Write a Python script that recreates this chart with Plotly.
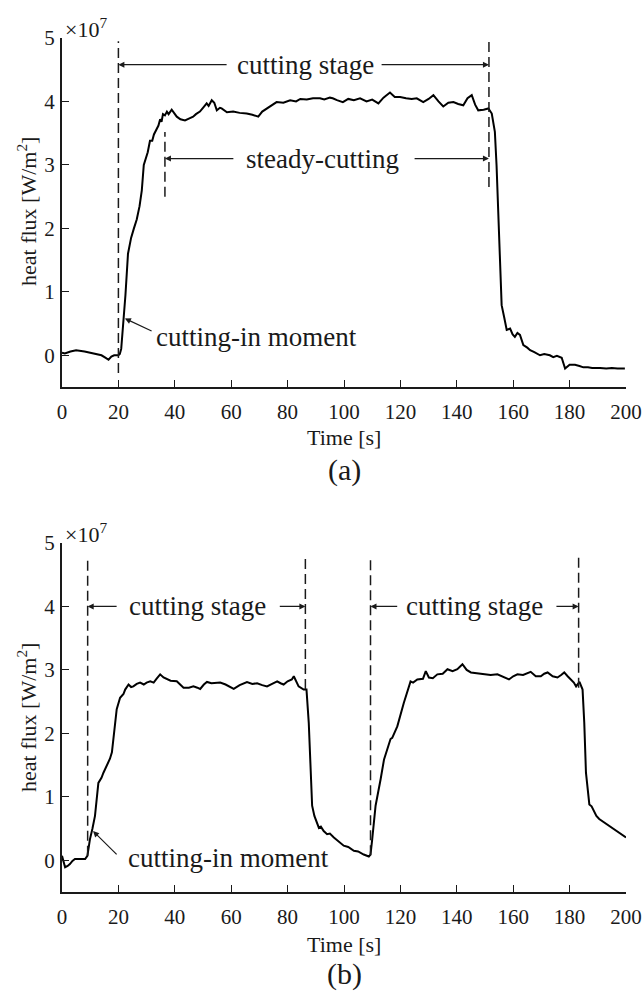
import plotly.graph_objects as go

# ---------------- data (heat flux in units of 1e7 W/m^2) ----------------
t_a = [0, 1, 3, 5, 8, 11, 14, 15.5, 16.5, 17.5, 18.5, 20, 20.5, 21.0, 21.8, 22.5, 23.4, 24.5, 25.5,
       26.5, 27.5, 28.3, 29.0, 29.6, 30.4, 31.2, 32.0, 32.6, 33.6, 34.2, 34.8, 35.3, 35.8, 36.5,
       37.2, 37.8, 38.9, 40, 40.7, 42, 43.6, 45, 46.5, 47.5, 48.9, 50, 51.3, 52, 53.1, 54, 54.9,
       56, 56.6, 58.5, 60.7, 63, 65.5, 67.5, 69.6, 71, 72.6, 74.5, 76.1, 78.5, 80.9, 83, 84.5,
       86.8, 89, 91.5, 93, 95, 96, 97.5, 99.6, 101.5, 103.5, 105.7, 108, 110, 112.2, 114, 116.3,
       118, 119.9, 122, 124, 125.8, 128.1, 130, 131.7, 133.5, 135.2, 137, 138.8, 140.5, 142.3,
       143.8, 145.3, 146.5, 147.6, 149.5, 151.2, 152.4, 153.5, 154.1, 154.7, 155.3, 155.9, 156.8,
       157.7, 158.9, 159.8, 160.6, 161.5, 162.4, 163.6, 165, 166, 167.5, 169.5, 171, 173, 174.2,
       175.5, 177.2, 178.4, 180, 181.9, 183.5, 184.9, 186.5, 188, 190.8, 193, 195, 197, 199.6]
q_a = [0.04, 0.03, 0.06, 0.08, 0.06, 0.03, 0.0, -0.04, -0.07, -0.02, 0.0, 0.0, 0.02, 0.1, 0.5, 0.95,
       1.6, 1.85, 2.0, 2.14, 2.35, 2.6, 3.0, 3.1, 3.2, 3.38, 3.38, 3.48, 3.57, 3.62, 3.72, 3.68, 3.8,
       3.78, 3.84, 3.8, 3.87, 3.8, 3.76, 3.72, 3.7, 3.73, 3.76, 3.8, 3.84, 3.9, 3.97, 3.93, 4.02,
       3.98, 3.86, 3.9, 3.89, 3.83, 3.84, 3.82, 3.81, 3.79, 3.76, 3.84, 3.89, 3.95, 3.99, 3.98, 4.02,
       4.0, 4.04, 4.03, 4.05, 4.05, 4.03, 4.06, 4.05, 4.02, 3.99, 4.04, 4.02, 4.05, 4.0, 4.03, 3.97,
       4.06, 4.14, 4.07, 4.07, 4.05, 4.04, 4.05, 3.99, 4.04, 4.1, 4.0, 3.92, 3.98, 3.99, 3.96, 3.94,
       4.05, 4.1, 3.95, 3.86, 3.87, 3.89, 3.81, 3.52, 2.99, 2.2, 1.67, 0.79, 0.6, 0.4, 0.42, 0.33,
       0.29, 0.35, 0.32, 0.16, 0.12, 0.08, 0.05, 0.0, 0.02, 0.0, -0.03, -0.01, -0.04, -0.21, -0.15,
       -0.15, -0.17, -0.19, -0.19, -0.2, -0.2, -0.21, -0.2, -0.21, -0.21]

t_b = [0, 0.5, 1.1, 2, 2.8, 3.7, 4.6, 6, 8.2, 9.0, 9.9, 10.8, 11.7, 12.9, 14, 14.7, 15.9, 17, 17.7,
       18.2, 18.8, 19.4, 20.6, 21.2, 21.8, 22.4, 23.6, 24.5, 25.3, 26.5, 27.7, 29, 30, 31.3, 32.5,
       33.5, 34.8, 36, 37.2, 38.5, 40.7, 42, 43.1, 45, 46.6, 48, 49, 50.3, 51.4, 53, 56.1, 58, 60.9,
       63, 65.6, 67.5, 69.2, 71, 72.7, 74.5, 76.3, 77.5, 78.6, 80, 81.5, 82.2, 83.9, 85.7, 86.7,
       87.5, 88, 88.7, 89.5, 91.1, 91.8, 92.8, 94, 95, 96.4, 98, 99.9, 101.5, 103.5, 105, 107,
       108.8, 109.4, 110, 111.2, 113, 114.2, 116.5, 117.1, 118.9, 121.2, 123.6, 124.5, 126, 128,
       129, 130.1, 131.5, 133.1, 135, 136.7, 138.5, 140.2, 142, 143.5, 145, 147, 149.7, 152, 154.4,
       156.5, 158.5, 160, 161.5, 163.5, 166.2, 168, 169.8, 171, 172.2, 174, 175.7, 177, 178.1,
       179.3, 180.5, 181.5, 182.3, 183.5, 184.6, 185.2, 185.8, 187, 187.8, 188.7, 189.5, 190.5,
       191.5, 192.9, 194, 195.3, 196.5, 197.6, 199, 200]
q_b = [0.07, 0.0, -0.11, -0.09, -0.06, -0.01, 0.02, 0.02, 0.02, 0.07, 0.33, 0.5, 0.7, 1.22, 1.3,
       1.38, 1.49, 1.6, 1.7, 1.91, 2.18, 2.38, 2.56, 2.59, 2.62, 2.69, 2.77, 2.73, 2.74, 2.78, 2.8,
       2.77, 2.8, 2.82, 2.8, 2.86, 2.93, 2.88, 2.85, 2.83, 2.82, 2.76, 2.72, 2.72, 2.74, 2.72, 2.7,
       2.77, 2.81, 2.79, 2.8, 2.77, 2.7, 2.76, 2.81, 2.78, 2.79, 2.76, 2.74, 2.78, 2.82, 2.79, 2.77,
       2.82, 2.85, 2.9, 2.74, 2.69, 2.69, 2.17, 1.5, 0.86, 0.7, 0.51, 0.53, 0.46, 0.41, 0.42, 0.36,
       0.3, 0.23, 0.21, 0.15, 0.14, 0.09, 0.06, 0.09, 0.33, 0.86, 1.28, 1.59, 1.91, 1.93, 2.11, 2.48,
       2.82, 2.8, 2.85, 2.86, 2.98, 2.88, 2.87, 2.93, 2.94, 3.01, 2.98, 3.01, 3.09, 3.0, 2.96, 2.95,
       2.93, 2.92, 2.93, 2.89, 2.85, 2.9, 2.93, 2.92, 2.97, 2.9, 2.9, 2.94, 2.96, 2.9, 2.88, 2.92,
       2.96, 2.9, 2.85, 2.8, 2.74, 2.81, 2.69, 2.17, 1.38, 0.88, 0.85, 0.78, 0.7, 0.65, 0.62, 0.57,
       0.55, 0.51, 0.47, 0.44, 0.4, 0.36]

x_ticks = [0, 20, 40, 60, 80, 100, 120, 140, 160, 180, 200]
y_ticks = [0, 1, 2, 3, 4, 5]

# marker lines: (x, y_start, y_end)
dash_a = [(20, -0.28, 4.95), (151.4, 2.65, 4.95), (36.5, 2.5, 3.52)]
dash_b = [(9.1, 0.07, 4.77), (86.3, 2.7, 4.77), (109.4, 0.08, 4.77), (183.2, 2.72, 4.77)]

# labelled spans: (text, text_x, y, left_x, left_tail, right_tail, right_x)
spans_a = [("cutting stage", 86.5, 4.58, 20, 58.9, 112.8, 151.4),
           ("steady-cutting", 92.5, 3.1, 36.5, 61.3, 124.5, 151.4)]
spans_b = [("cutting stage", 48.1, 4.0, 9.1, 19.9, 76.7, 86.3),
           ("cutting stage", 146.4, 4.0, 109.4, 119.4, 174.8, 183.2)]

# cutting-in arrows: (text_x, text_y, tail_x, tail_y, head_x, head_y)
cutin_a = (69.1, 0.29, 32.3, 0.37, 22.3, 0.58)
cutin_b = (59.0, 0.03, 19.9, 0.07, 11.0, 0.46)

# ---------------- figure ----------------
FONT = "'Liberation Serif', 'Times New Roman', Times, serif"
INK = "#1a1a1a"
W, H = 644, 994
X0, X1 = 62, 626  # plot area left/right in px


def px_x(p):
    return p / W


def px_y(p):
    return 1 - p / H


fig = go.Figure()
fig.add_trace(go.Scatter(x=t_a, y=q_a, mode="lines", line=dict(color="black", width=2),
                         xaxis="x", yaxis="y", showlegend=False))
fig.add_trace(go.Scatter(x=t_b, y=q_b, mode="lines", line=dict(color="black", width=2),
                         xaxis="x2", yaxis="y2", showlegend=False))

top_dom = [px_y(387), px_y(38)]
bot_dom = [px_y(892), px_y(543)]
x_dom = [px_x(X0), px_x(X1)]

ax_common = dict(range=[0, 200], tickvals=x_ticks, ticks="inside", ticklen=7, tickwidth=1,
                 tickcolor=INK, showline=True, linecolor=INK, linewidth=2, showgrid=False,
                 zeroline=False, tickfont=dict(family=FONT, size=21, color=INK),
                 ticklabelstandoff=5, automargin=False, fixedrange=True)
ay_common = dict(range=[-0.5, 5], tickvals=y_ticks, ticks="inside", ticklen=7, tickwidth=1,
                 tickcolor=INK, showline=True, linecolor=INK, linewidth=2, showgrid=False,
                 zeroline=False, tickfont=dict(family=FONT, size=21, color=INK),
                 ticklabelstandoff=1, automargin=False, fixedrange=True)

fig.update_layout(
    width=W, height=H,
    margin=dict(l=0, r=0, t=0, b=0),
    paper_bgcolor="white", plot_bgcolor="white",
    xaxis=dict(domain=x_dom, anchor="y", **ax_common),
    yaxis=dict(domain=top_dom, anchor="x", **ay_common),
    xaxis2=dict(domain=x_dom, anchor="y2", **ax_common),
    yaxis2=dict(domain=bot_dom, anchor="x2", **ay_common),
    font=dict(family=FONT, color=INK),
)

shapes = []
for xr, yr, lst in (("x", "y", dash_a), ("x2", "y2", dash_b)):
    for x, y0, y1 in lst:
        shapes.append(dict(type="line", xref=xr, yref=yr, x0=x, x1=x, y0=y0, y1=y1,
                           line=dict(color=INK, width=1.5, dash="10px,5px")))
fig.update_layout(shapes=shapes)

ann = []


def arrow(xr, yr, tx, ty, hx, hy):
    ann.append(dict(xref=xr, yref=yr, axref=xr, ayref=yr, x=hx, y=hy, ax=tx, ay=ty,
                    text="", showarrow=True, arrowhead=2, arrowsize=1, arrowwidth=1.2,
                    arrowcolor=INK, standoff=0, startstandoff=0))


for xr, yr, spans in (("x", "y", spans_a), ("x2", "y2", spans_b)):
    for txt, tx, y, lx, ltail, rtail, rx in spans:
        ann.append(dict(xref=xr, yref=yr, x=tx, y=y, text=txt, showarrow=False,
                        font=dict(family=FONT, size=27, color=INK), xanchor="center",
                        yanchor="middle"))
        arrow(xr, yr, ltail, y, lx, y)
        arrow(xr, yr, rtail, y, rx, y)

for xr, yr, c in (("x", "y", cutin_a), ("x2", "y2", cutin_b)):
    tx, ty, ax_, ay_, hx, hy = c
    ann.append(dict(xref=xr, yref=yr, x=tx, y=ty, text="cutting-in moment", showarrow=False,
                    font=dict(family=FONT, size=27, color=INK), xanchor="center",
                    yanchor="middle"))
    arrow(xr, yr, ax_, ay_, hx, hy)

# axis titles, multipliers and panel labels
for ymid, y_mult, y_time, y_lab, lab in ((212, 28, 437, 470, "(a)"),
                                         (718, 533, 944, 974, "(b)")):
    ann.append(dict(xref="paper", yref="paper", x=px_x(27), y=px_y(ymid),
                    text="heat flux [W/m<sup>2</sup>]", textangle=-90, showarrow=False,
                    font=dict(family=FONT, size=22, color=INK), xanchor="center",
                    yanchor="middle"))
    ann.append(dict(xref="paper", yref="paper", x=px_x(63), y=px_y(y_mult),
                    text="\u00d710<sup>7</sup>", showarrow=False,
                    font=dict(family=FONT, size=22, color=INK), xanchor="left",
                    yanchor="middle"))
    ann.append(dict(xref="paper", yref="paper", x=px_x(344), y=px_y(y_time),
                    text="Time [s]", showarrow=False,
                    font=dict(family=FONT, size=22, color=INK), xanchor="center",
                    yanchor="middle"))
    ann.append(dict(xref="paper", yref="paper", x=px_x(344), y=px_y(y_lab),
                    text=lab, showarrow=False,
                    font=dict(family=FONT, size=30, color=INK), xanchor="center",
                    yanchor="middle"))

fig.update_layout(annotations=ann)
fig.write_html("out.html")
